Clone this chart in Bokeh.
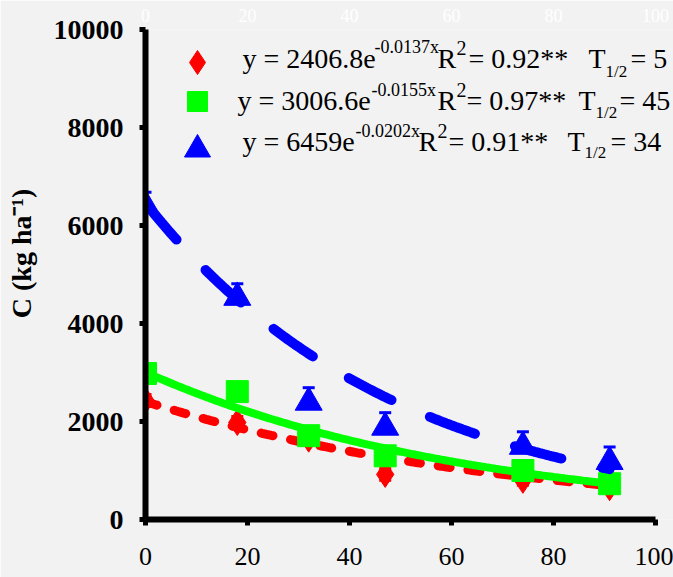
from bokeh.plotting import figure
from bokeh.models import Label, LinearAxis, FixedTicker, Whisker, ColumnDataSource, TeeHead, Range1d
from bokeh.embed import file_html
from bokeh.resources import INLINE
import numpy as np

# ---- data ----
days = [0, 18, 32, 47, 74, 91]
red_c = [2430, 1980, 1640, 920, 800, 650]
green_c = [2980, 2610, 1710, 1300, 1000, 730]
blue_c = [6410, 4530, 2390, 1880, 1490, 1180]
red_err = [120, 120, 120, 120, 100, 100]
green_err = [130, 130, 130, 130, 120, 110]
blue_err = [270, 280, 300, 300, 300, 300]
fit_a = [2406.8, 3006.6, 6459.0]
fit_k = [0.0137, 0.0155, 0.0202]
x_ticks = [0, 20, 40, 60, 80, 100]
y_ticks = [0, 2000, 4000, 6000, 8000, 10000]

FONT = "Liberation Serif"
BG = "#f2f2f2"
RED, GREEN, BLUE = "#ff0000", "#00ff00", "#0000ff"

W, H = 673, 577
L, T, B = 145, 29, 58
X100 = 655                      # pixel of x = 100
fw, fh = X100 - L, H - T - B
x_end = 100.0 * (W - L) / fw     # frame runs to the right edge

p = figure(width=W, height=H, output_backend="svg", toolbar_location=None,
           x_range=Range1d(0, x_end), y_range=Range1d(0, 10000),
           min_border_left=L, min_border_right=0, min_border_top=T, min_border_bottom=B,
           background_fill_color=BG, border_fill_color=BG)
p.outline_line_color = None
p.xgrid.visible = False
p.ygrid.visible = False

def dx(px):
    return (px - L) / fw * 100.0
def dy(py):
    return (H - B - py) / fh * 10000.0

# axes
xa = p.xaxis[0]
xa.ticker = FixedTicker(ticks=x_ticks)
xa.bounds = (0, 100)
xa.axis_line_width = 6
xa.axis_line_color = "black"
xa.major_tick_line_width = 5
xa.major_tick_out = 6
xa.major_tick_in = 0
xa.minor_tick_line_color = None
xa.major_label_text_font = FONT
xa.major_label_text_font_size = "26px"
xa.major_label_text_color = "black"
xa.major_label_standoff = 22

ya = p.yaxis[0]
ya.ticker = FixedTicker(ticks=y_ticks)
ya.axis_line_width = 6
ya.axis_line_color = "black"
ya.major_tick_line_width = 5
ya.major_tick_out = 6
ya.major_tick_in = 0
ya.minor_tick_line_color = None
ya.major_label_text_font = FONT
ya.major_label_text_font_size = "28px"
ya.major_label_text_font_style = "bold"
ya.major_label_text_color = "black"
ya.major_label_standoff = 16
ya.axis_label = "\u00a0" * 6 + "C (kg ha\u207b\u00b9)"
ya.axis_label_text_font = FONT
ya.axis_label_text_font_size = "28px"
ya.axis_label_text_font_style = "bold"
ya.axis_label_text_color = "black"
ya.axis_label_standoff = 14

top = LinearAxis(ticker=FixedTicker(ticks=x_ticks))
top.bounds = (0, 100)
top.axis_line_color = None
top.major_tick_line_color = None
top.minor_tick_line_color = None
top.major_label_text_color = "white"
top.major_label_text_font = FONT
top.major_label_text_font_size = "18px"
top.major_label_standoff = 2
p.add_layout(top, "above")

# fitted curves
xs = np.linspace(0, 91, 200)
curves = [a * np.exp(-k * xs) for a, k in zip(fit_a, fit_k)]

def errbars(vals, errs, color, lower=True):
    src = ColumnDataSource(dict(x=days, up=[v + e for v, e in zip(vals, errs)],
                                lo=[(v - e) if lower else v for v, e in zip(vals, errs)]))
    w = Whisker(source=src, base="x", upper="up", lower="lo", dimension="height",
                line_color=color, line_width=3,
                upper_head=TeeHead(size=12, line_color=color, line_width=3),
                lower_head=TeeHead(size=12, line_color=color, line_width=3) if lower else None)
    p.add_layout(w)

# red
errbars(red_c, red_err, RED)
p.scatter(days, red_c, marker="diamond", size=26, color=RED)
p.line(xs, curves[0], line_color=RED, line_width=9, line_dash="12 18", line_cap="round")
# green
errbars(green_c, green_err, GREEN)
p.scatter(days, green_c, marker="square", size=22, color=GREEN)
p.line(xs, curves[1], line_color=GREEN, line_width=8)
# blue
errbars(blue_c, blue_err, BLUE, lower=False)
p.scatter(days, blue_c, marker="triangle", size=27, color=BLUE)
p.line(xs, curves[2], line_color=BLUE, line_width=10, line_dash="48 42", line_cap="round")

# legend markers
p.scatter([dx(197)], [dy(62)], marker="diamond", size=24, color=RED)
p.scatter([dx(197)], [dy(101)], marker="square", size=20, color=GREEN)
p.scatter([dx(197)], [dy(149)], marker="triangle", size=26, color=BLUE)

# legend text pieces: (text, px, py, size)
MAIN, SUP, SQ, SUB = 28, 18, 20, 17
rows = [
    [("y = 2406.8e", 242, 58, MAIN), ("-0.0137x", 374, 46, SUP), ("R", 437, 58, MAIN), ("2", 456, 47, SQ),
     ("= 0.92**", 468, 58, MAIN), ("T", 588, 58, MAIN), ("1/2", 605, 71, SUB), ("= 5", 630, 58, MAIN)],
    [("y = 3006.6e", 237, 100, MAIN), ("-0.0155x", 371, 89, SUP), ("R", 437, 100, MAIN), ("2", 456, 89, SQ),
     ("= 0.97**", 466, 100, MAIN), ("T", 578, 100, MAIN), ("1/2", 595, 112, SUB), ("= 45", 619, 100, MAIN)],
    [("y = 6459e", 242, 141, MAIN), ("-0.0202x", 355, 130, SUP), ("R", 418, 141, MAIN), ("2", 437, 130, SQ),
     ("= 0.91**", 448, 141, MAIN), ("T", 567, 141, MAIN), ("1/2", 584, 152, SUB), ("= 34", 610, 141, MAIN)],
]
for row in rows:
    for txt, px, py, sz in row:
        p.add_layout(Label(x=dx(px), y=dy(py), text=txt, text_font=FONT,
                           text_font_size=f"{sz}px", text_color="black",
                           text_baseline="alphabetic", text_align="left"))

open("out.html", "w").write(file_html(p, INLINE))
